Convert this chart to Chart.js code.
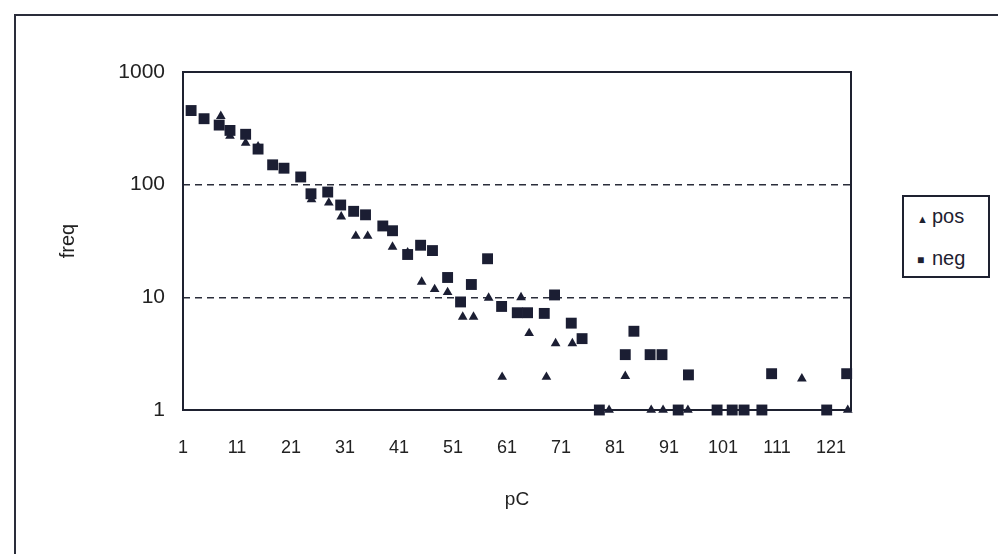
<!DOCTYPE html>
<html>
<head>
<meta charset="utf-8">
<script src="https://cdn.jsdelivr.net/npm/chart.js@4"></script>
<style>
  body { margin: 0; background: #fff; }
  #wrap { position: relative; width: 998px; height: 554px; overflow: hidden; }
  #frame { position: absolute; left: 14px; top: 14px; width: 1000px; height: 560px; border: 2px solid #2a2d3a; box-sizing: border-box; }
  #legend { position: absolute; left: 902px; top: 195px; width: 88px; height: 83px; border: 2px solid #1e2130; box-sizing: border-box;
    font-family: "Liberation Sans", Arial, sans-serif; font-size: 20px; color: #1e2130; background: #fff; }
  .item { position: absolute; left: 0; }
  .item span.m { display: inline-block; position: absolute; left: 13px; }
  .item span.t { position: absolute; left: 28px; }
</style>
</head>
<body>
<div id="wrap">
  <canvas id="chart"></canvas>
  <div id="frame"></div>
  <div id="legend">
    <div class="item" style="top:8px"><span class="m" style="font-size:11px;top:8px">&#9650;</span><span class="t">pos</span></div>
    <div class="item" style="top:50px"><span class="m" style="font-size:12px;top:6px">&#9632;</span><span class="t">neg</span></div>
  </div>
</div>
<script>
// Data
const pcPos = [8, 9.7, 12.6, 14.9, 24.8, 28, 30.3, 33, 35.2, 39.8, 42.6, 45.2, 47.6, 50, 52.8, 54.8, 57.6, 60.1, 63.6, 65.1, 68.3, 70, 73.1, 79.9, 82.9, 87.7, 89.9, 94.5, 115.6, 124.1];
const freqPos = [406, 270, 234, 218, 74, 69, 52, 35, 35, 28, 25, 13.7, 11.8, 11.1, 6.7, 6.7, 9.9, 1.96, 10, 4.8, 1.96, 3.9, 3.9, 1, 2, 1, 1, 1, 1.9, 1];

const pcNeg = [2.5, 4.9, 7.7, 9.7, 12.6, 14.9, 17.6, 19.7, 22.8, 24.7, 27.8, 30.2, 32.6, 34.8, 38, 39.8, 42.6, 45, 47.2, 50, 52.4, 54.4, 57.4, 60, 62.9, 64.8, 67.9, 69.8, 72.9, 74.9, 78.1, 82.9, 84.5, 87.5, 89.7, 92.7, 94.6, 99.9, 102.7, 104.9, 108.2, 110, 120.2, 123.9];
const freqNeg = [455, 385, 338, 303, 280, 207, 150, 140, 117, 83, 86, 66, 58, 54, 43, 39, 24, 29, 26, 15, 9.1, 13, 22, 8.3, 7.3, 7.3, 7.2, 10.5, 5.9, 4.3, 1, 3.1, 5, 3.1, 3.1, 1, 2.05, 1, 1, 1, 1, 2.1, 1, 2.1];

const xTicks = [1, 11, 21, 31, 41, 51, 61, 71, 81, 91, 101, 111, 121];
const yTicks = [1, 10, 100, 1000];

const ink = "#1b1e33";
const textColor = "#222";
const family = "'Liberation Sans', Arial, sans-serif";

const toPoints = (xs, ys) => xs.map((x, i) => ({ x, y: ys[i] }));

// plot area border, drawn under the markers
const borderPlugin = {
  id: "plotBorder",
  beforeDatasetsDraw(chart) {
    const { ctx, chartArea: a } = chart;
    ctx.save();
    ctx.strokeStyle = "#1e2130";
    ctx.lineWidth = 2;
    ctx.strokeRect(a.left, a.top, a.right - a.left, a.bottom - a.top);
    ctx.restore();
  },
};

new Chart(document.getElementById("chart"), {
  type: "scatter",
  data: {
    datasets: [
      {
        label: "neg",
        data: toPoints(pcNeg, freqNeg),
        pointStyle: "rect",
        pointRadius: 7.7,
        backgroundColor: ink,
        borderColor: ink,
        borderWidth: 0,
        clip: false,
        order: 0,
      },
      {
        label: "pos",
        data: toPoints(pcPos, freqPos),
        pointStyle: "triangle",
        pointRadius: 5.6,
        backgroundColor: ink,
        borderColor: ink,
        borderWidth: 0,
        clip: false,
        order: 1,
      },
    ],
  },
  options: {
    responsive: true,
    maintainAspectRatio: false,
    animation: false,
    layout: { padding: { left: 0, top: 72, right: 147, bottom: 0 } },
    plugins: { legend: { display: false }, tooltip: { enabled: false } },
    scales: {
      x: {
        type: "linear",
        min: 1,
        max: 124.7,
        afterBuildTicks: (s) => { s.ticks = xTicks.map((v) => ({ value: v })); },
        afterFit: (s) => { s.height = 144; },
        grid: { display: false, drawTicks: false },
        border: { display: false },
        ticks: { color: textColor, font: { family, size: 18 }, padding: 27, maxRotation: 0, callback: (v) => v },
        title: { display: true, text: "pC", color: textColor, font: { family, size: 19 }, padding: { top: 0, bottom: 43 } },
      },
      y: {
        type: "logarithmic",
        min: 1,
        max: 1000,
        afterBuildTicks: (s) => { s.ticks = yTicks.map((v) => ({ value: v })); },
        afterFit: (s) => { s.width = 183; },
        grid: {
          drawTicks: false,
          lineWidth: 1.5,
          color: (c) => (c.tick && (c.tick.value === 10 || c.tick.value === 100) ? "#2a2d3a" : "rgba(0,0,0,0)"),
        },
        border: { display: false, dash: [7, 5] },
        ticks: { color: textColor, font: { family, size: 21 }, padding: 18, callback: (v) => v },
        title: { display: true, text: "freq", color: textColor, font: { family, size: 20 }, padding: { top: 56, bottom: 0 } },
      },
    },
  },
  plugins: [borderPlugin],
});
</script>
</body>
</html>
